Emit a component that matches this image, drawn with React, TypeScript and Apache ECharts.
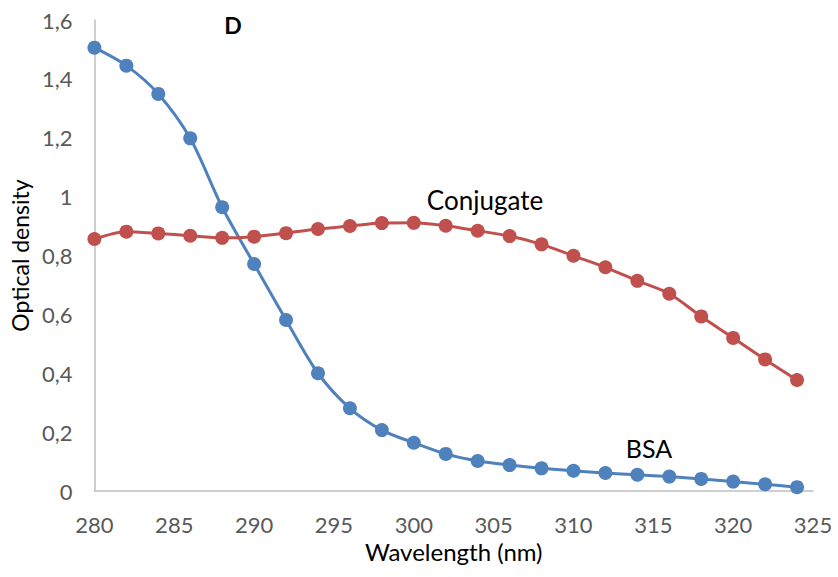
import React, { useEffect, useRef } from "react";
import * as echarts from "echarts";

const wavelengths = [280, 282, 284, 286, 288, 290, 292, 294, 296, 298, 300, 302, 304, 306, 308, 310, 312, 314, 316, 318, 320, 322, 324];
const bsa = [1.506, 1.445, 1.349, 1.198, 0.964, 0.771, 0.581, 0.4, 0.281, 0.207, 0.164, 0.126, 0.102, 0.088, 0.077, 0.069, 0.061, 0.055, 0.049, 0.041, 0.032, 0.023, 0.013];
const conjugate = [0.856, 0.881, 0.875, 0.867, 0.86, 0.864, 0.876, 0.89, 0.9, 0.91, 0.911, 0.901, 0.884, 0.866, 0.838, 0.799, 0.76, 0.714, 0.67, 0.593, 0.52, 0.447, 0.377];
const seriesNames = ["BSA", "Conjugate"];

const FONT = "Lato, 'Open Sans', sans-serif";

export default function App() {
  const ref = useRef<HTMLDivElement>(null);
  useEffect(() => {
    if (!ref.current) return;
    const chart = echarts.init(ref.current, null, { renderer: "svg" });
    const mk = (vals: number[]) => wavelengths.map((w, i) => [w, vals[i]]);
    chart.setOption({
      animation: false,
      backgroundColor: "#ffffff",
      grid: { left: 93, right: 25, top: 20, bottom: 86, containLabel: false },
      xAxis: {
        type: "value",
        min: 280,
        max: 325,
        interval: 5,
        name: "Wavelength (nm)",
        nameLocation: "middle",
        nameGap: 47,
        nameTextStyle: { color: "#000", fontSize: 24, fontFamily: FONT },
        axisLine: { lineStyle: { color: "#BFBFBF", width: 1.5 } },
        axisTick: { show: false },
        splitLine: { show: false },
        axisLabel: { color: "#595959", fontSize: 22, fontFamily: FONT, margin: 22 },
      },
      yAxis: {
        type: "value",
        min: 0,
        max: 1.6,
        interval: 0.2,
        name: "Optical density",
        nameLocation: "middle",
        nameGap: 62,
        nameTextStyle: { color: "#000", fontSize: 23, fontFamily: FONT },
        axisLine: { show: true, lineStyle: { color: "#BFBFBF", width: 1.5 } },
        axisTick: { show: false },
        splitLine: { show: false },
        axisLabel: {
          color: "#595959",
          fontSize: 22,
          fontFamily: FONT,
          margin: 22,
          formatter: (v: number) => String(Math.round(v * 10) / 10).replace(".", ","),
        },
      },
      series: [
        {
          name: seriesNames[0],
          type: "line",
          data: mk(bsa),
          smooth: 0.3,
          symbol: "circle",
          symbolSize: 14,
          lineStyle: { color: "#4F81BD", width: 3 },
          itemStyle: { color: "#4F81BD" },
        },
        {
          name: seriesNames[1],
          type: "line",
          data: mk(conjugate),
          smooth: 0.3,
          symbol: "circle",
          symbolSize: 14,
          lineStyle: { color: "#C0504D", width: 3 },
          itemStyle: { color: "#C0504D" },
        },
      ],
      graphic: [
        { type: "text", x: 233, y: 25, style: { text: "D", fontSize: 23, fontWeight: "bold", fontFamily: FONT, fill: "#000", align: "center", verticalAlign: "middle" } },
        { type: "text", x: 485, y: 200, style: { text: "Conjugate", fontSize: 26, fontFamily: FONT, fill: "#000", align: "center", verticalAlign: "middle" } },
        { type: "text", x: 649, y: 448, style: { text: "BSA", fontSize: 25, fontFamily: FONT, fill: "#000", align: "center", verticalAlign: "middle" } },
      ],
    });
    return () => chart.dispose();
  }, []);
  return <div ref={ref} style={{ position: "fixed", left: 0, top: 0, width: 838, height: 577 }} />;
}
